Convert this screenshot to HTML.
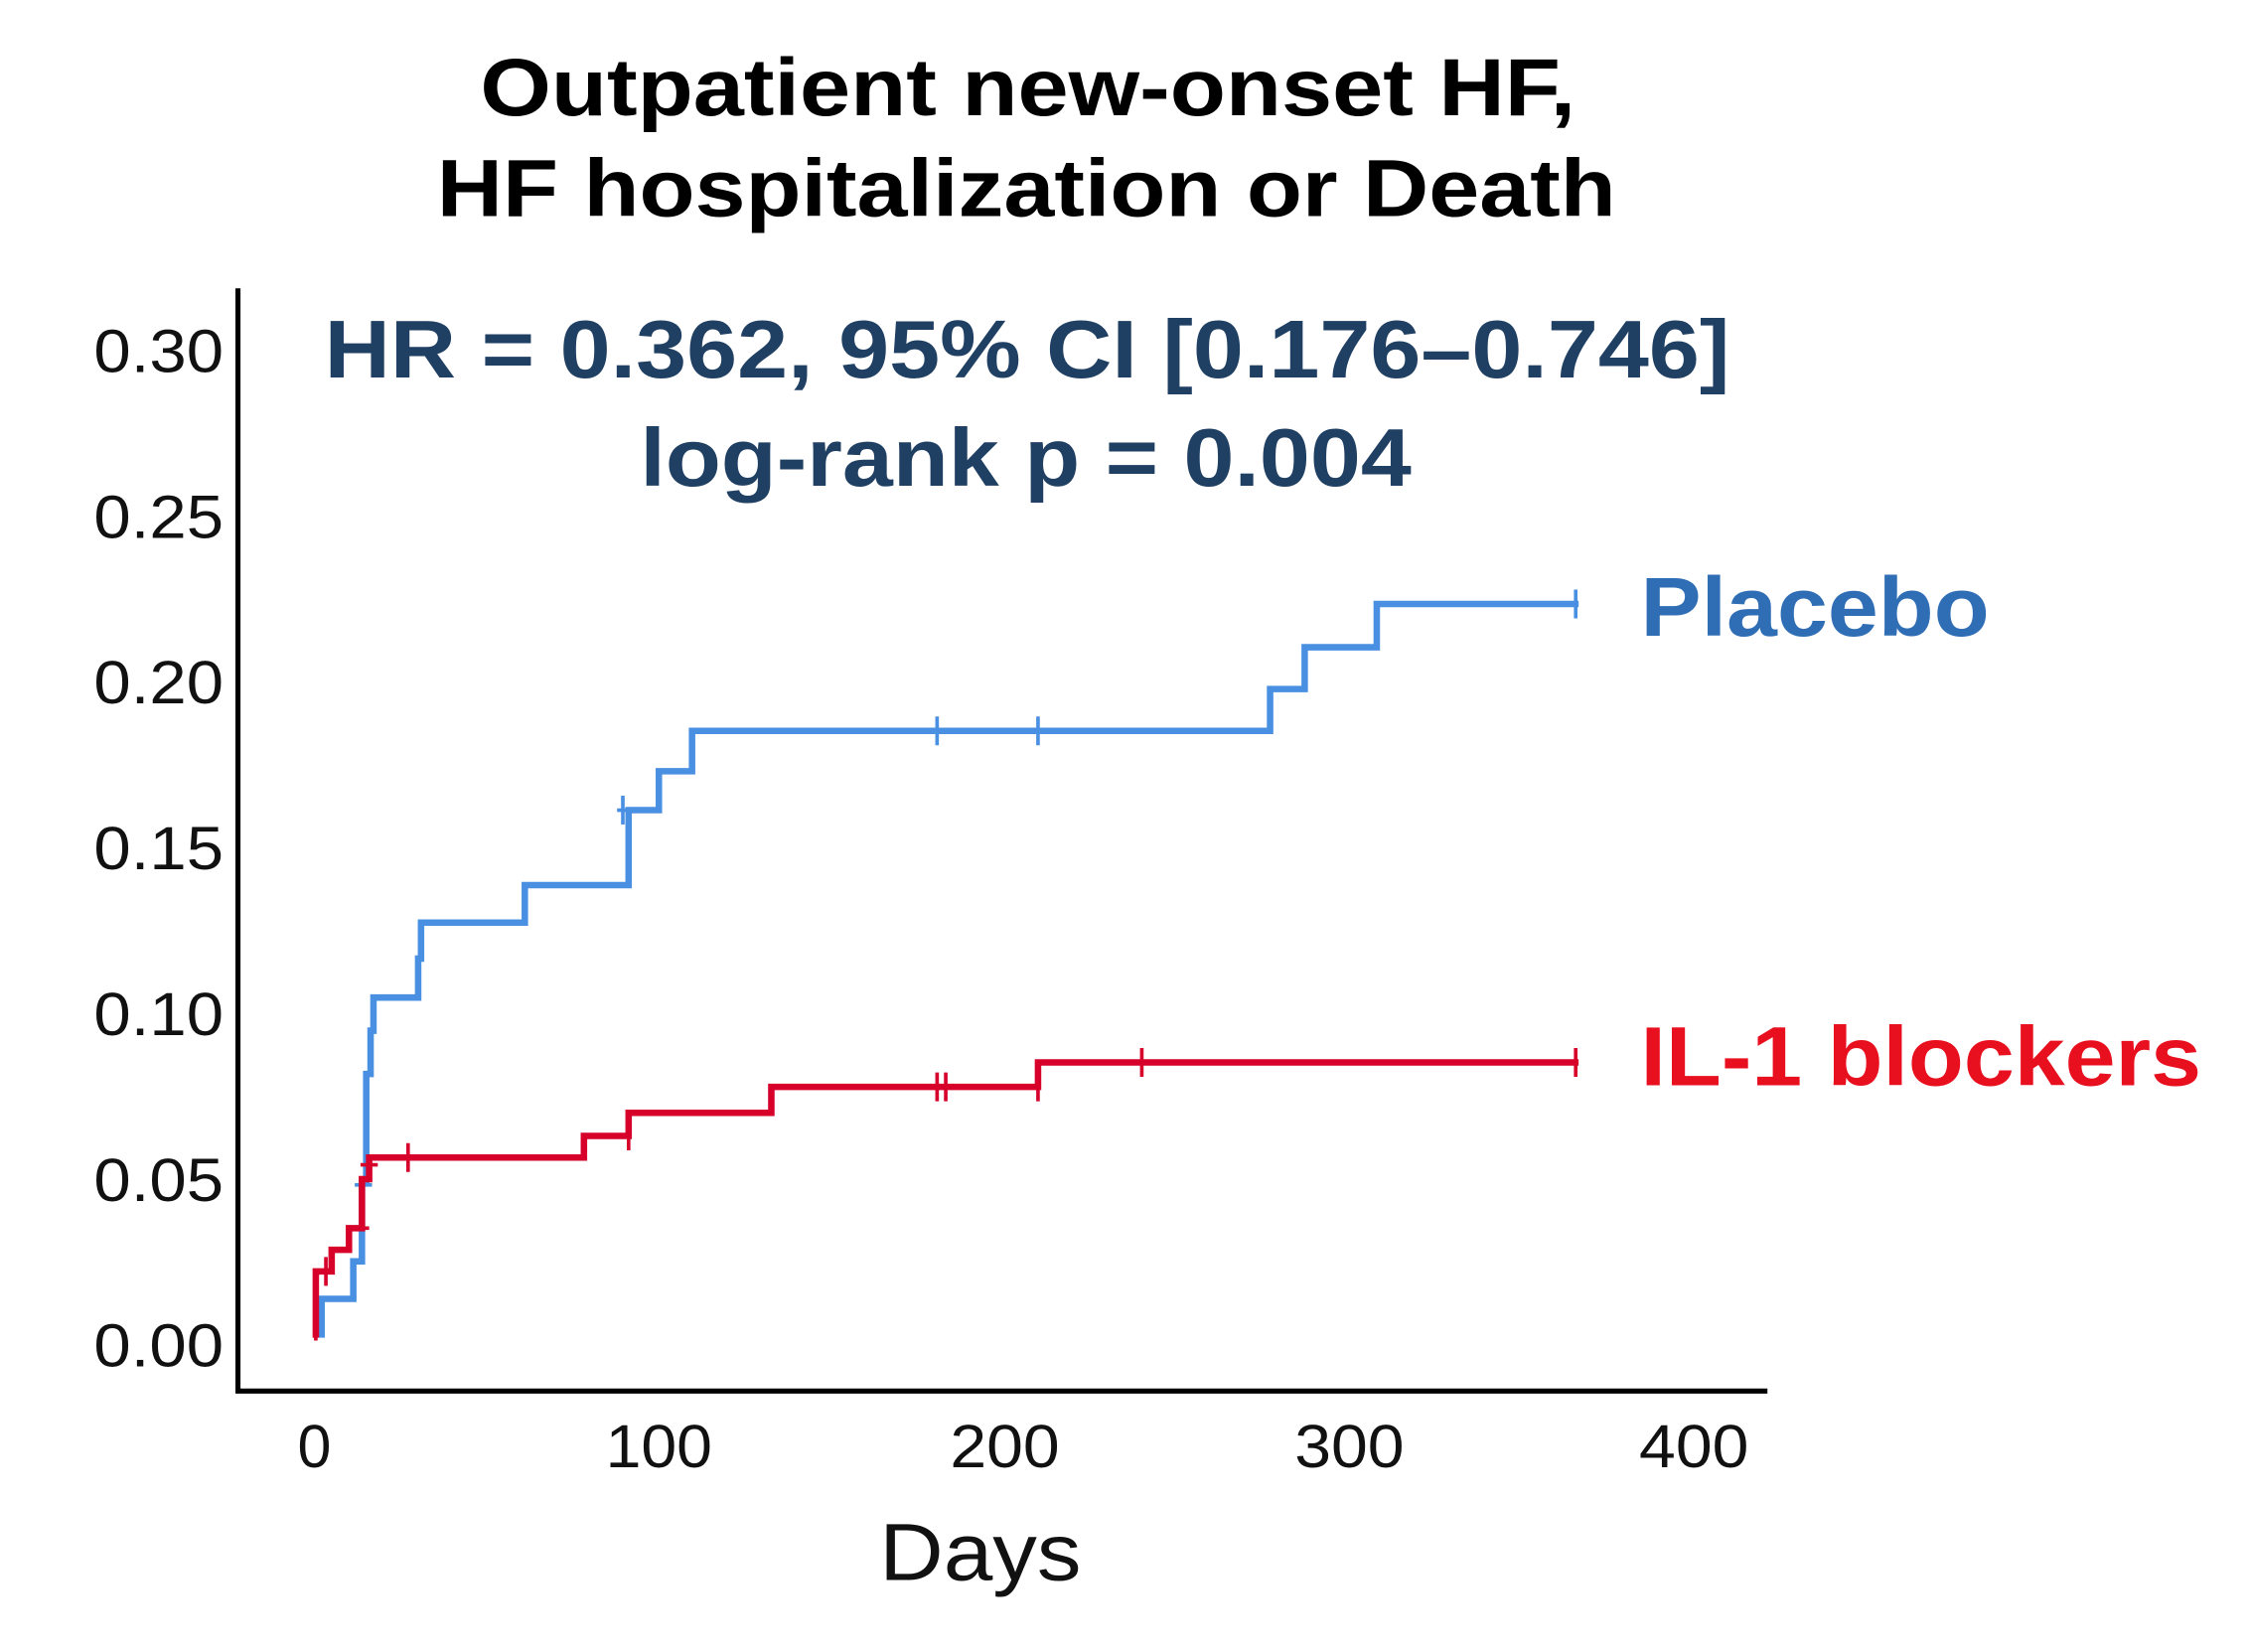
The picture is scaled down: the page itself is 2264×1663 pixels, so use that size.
<!DOCTYPE html>
<html><head><meta charset="utf-8"><style>html,body{margin:0;padding:0;background:#fff}svg{display:block}</style></head>
<body>
<svg width="2264" height="1663" viewBox="0 0 1560 1146" xmlns="http://www.w3.org/2000/svg" font-family="Liberation Sans, sans-serif">
<rect width="1560" height="1146" fill="#fff"/>
<g font-weight="bold" font-size="56" fill="#000" lengthAdjust="spacingAndGlyphs">
<text x="333" y="80" textLength="760" lengthAdjust="spacingAndGlyphs">Outpatient new-onset HF,</text>
<text x="303" y="150" textLength="818" lengthAdjust="spacingAndGlyphs">HF hospitalization or Death</text>
</g>
<g font-weight="bold" font-size="57" fill="#1f3f63">
<text x="225" y="262" textLength="975" lengthAdjust="spacingAndGlyphs">HR = 0.362, 95% CI [0.176–0.746]</text>
<text x="444" y="337" textLength="535" lengthAdjust="spacingAndGlyphs">log-rank p = 0.004</text>
</g>
<path d="M165 200 V965 H1226" fill="none" stroke="#000" stroke-width="3.5"/>
<g font-size="42" fill="#111">
<text x="65" y="258" textLength="90" lengthAdjust="spacingAndGlyphs">0.30</text>
<text x="65" y="373" textLength="90" lengthAdjust="spacingAndGlyphs">0.25</text>
<text x="65" y="488" textLength="90" lengthAdjust="spacingAndGlyphs">0.20</text>
<text x="65" y="603" textLength="90" lengthAdjust="spacingAndGlyphs">0.15</text>
<text x="65" y="718" textLength="90" lengthAdjust="spacingAndGlyphs">0.10</text>
<text x="65" y="833" textLength="90" lengthAdjust="spacingAndGlyphs">0.05</text>
<text x="65" y="948" textLength="90" lengthAdjust="spacingAndGlyphs">0.00</text>
</g>
<g font-size="42" text-anchor="middle" fill="#111">
<text x="218" y="1018">0</text>
<text x="457" y="1018" textLength="74" lengthAdjust="spacingAndGlyphs">100</text>
<text x="697" y="1018" textLength="76" lengthAdjust="spacingAndGlyphs">200</text>
<text x="936" y="1018" textLength="76" lengthAdjust="spacingAndGlyphs">300</text>
<text x="1175" y="1018" textLength="76" lengthAdjust="spacingAndGlyphs">400</text>
</g>
<text x="610" y="1096" font-size="56" fill="#111" textLength="140" lengthAdjust="spacingAndGlyphs">Days</text>
<path d="M223 928 V901 H245 V875 H251 V820 H254 V745 H257 V715 H259 V692 H290 V665 H292 V640 H364 V614 H436 V562 H457 V535 H480 V507 H881 V478 H905 V449 H955 V419 H1095" fill="none" stroke="#4a90e2" stroke-width="4.5"/>
<g stroke="#4a90e2" stroke-width="2.5">
<path d="M650 497 V517 M720 497 V517 M1093 409 V429 M432 552 V572 M428 562 H440 M246 822 H258"/>
</g>
<path d="M219 928 V882 H230 V867 H242 V852 H251 V818 H256 V803 H405 V788 H436 V772 H535 V754 H720 V737 H1095" fill="none" stroke="#d6002a" stroke-width="4.5"/>
<g stroke="#d6002a" stroke-width="2.5">
<path d="M283 793 V813 M436 778 V798 M650 744 V764 M656 744 V764 M720 744 V764 M792 727 V747 M1093 727 V747 M219 910 V930 M226 872 V892 M240 852 H256 M250 808 H262"/>
</g>
<text x="1138" y="441" font-size="58" font-weight="bold" fill="#2f6eb5" textLength="242" lengthAdjust="spacingAndGlyphs">Placebo</text>
<text x="1138" y="753" font-size="58" font-weight="bold" fill="#e8101e" textLength="389" lengthAdjust="spacingAndGlyphs">IL-1 blockers</text>
</svg>
</body></html>
